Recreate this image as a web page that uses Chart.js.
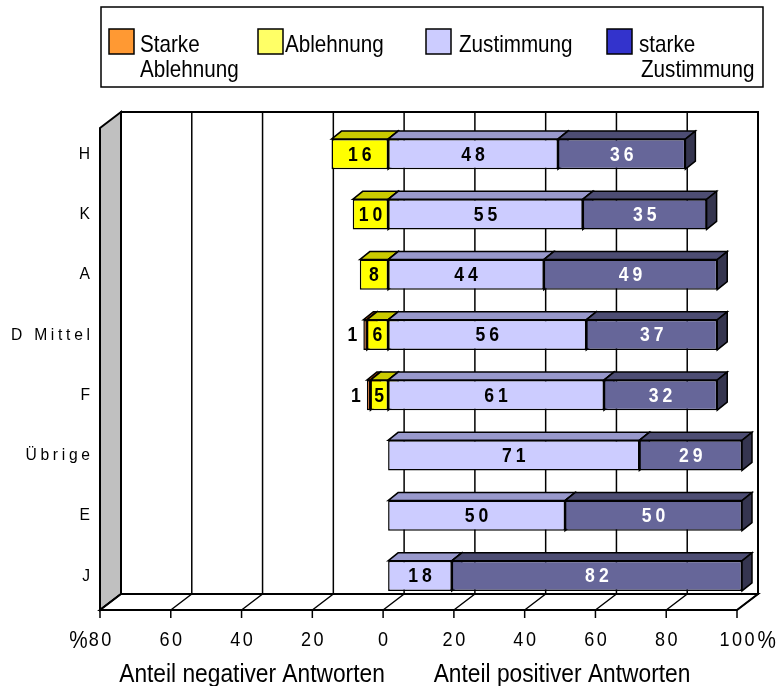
<!DOCTYPE html>
<html>
<head>
<meta charset="utf-8">
<script src="https://cdn.jsdelivr.net/npm/chart.js@4/dist/chart.umd.min.js"></script>
<style>
  html, body { margin: 0; padding: 0; background: #fff; }
  #wrap { width: 783px; height: 686px; }
</style>
</head>
<body>
<div id="wrap"><canvas id="c" width="783" height="686"></canvas></div>
<script>
// Survey answers per region, in percent
const categories = ['H', 'K', 'A', 'D Mittel', 'F', 'Übrige', 'E', 'J'];
const starkeAblehnung  = [0, 0, 0, 1, 1, 0, 0, 0];
const ablehnung        = [16, 10, 8, 6, 5, 0, 0, 0];
const zustimmung       = [48, 55, 44, 56, 61, 71, 50, 18];
const starkeZustimmung = [36, 35, 49, 37, 32, 29, 50, 82];
const xTicks = [-80, -60, -40, -20, 0, 20, 40, 60, 80, 100];

const legendItems = [
  { lines: ['Starke', 'Ablehnung'], color: '#FF9933' },
  { lines: ['Ablehnung'], color: '#FFFF66' },
  { lines: ['Zustimmung'], color: '#CCCCFF' },
  { lines: ['starke', 'Zustimmung'], color: '#3333CC' }
];

const FONT = '"Liberation Sans", Arial, sans-serif';
// offsets of the 3D box relative to the front plane of the bars
const FRONT = { x: -5, y: 4 };
const BACK = { x: 16, y: -12 };
const BAR_DEPTH = { x: 10, y: -8 };

const negative = arr => arr.map(v => (v === 0 ? null : -v));
const positive = arr => arr.map(v => (v === 0 ? null : v));

// text helpers: letter spacing and horizontal condensing
function spacedWidth(ctx, text, sp, sx) {
  const chars = [...text];
  let w = 0;
  for (const ch of chars) w += ctx.measureText(ch).width * sx;
  return w + sp * (chars.length - 1);
}
function drawSpaced(ctx, text, x, y, sp, align, sx) {
  sx = sx || 1;
  const w = spacedWidth(ctx, text, sp, sx);
  let cx = align === 'center' ? x - w / 2 : align === 'right' ? x - w : x;
  ctx.textAlign = 'left';
  for (const ch of [...text]) {
    ctx.save();
    ctx.translate(cx, y);
    ctx.scale(sx, 1);
    ctx.fillText(ch, 0, 0);
    ctx.restore();
    cx += ctx.measureText(ch).width * sx + sp;
  }
  return w;
}
function poly(ctx, pts, fill, lw) {
  ctx.beginPath();
  ctx.moveTo(pts[0][0], pts[0][1]);
  for (let i = 1; i < pts.length; i++) ctx.lineTo(pts[i][0], pts[i][1]);
  ctx.closePath();
  if (fill) { ctx.fillStyle = fill; ctx.fill(); }
  ctx.lineWidth = lw || 1.5;
  ctx.strokeStyle = '#000';
  ctx.stroke();
}

const box3d = {
  id: 'box3d',
  beforeDatasetsDraw(chart) {
    const ctx = chart.ctx, xs = chart.scales.x, ca = chart.chartArea;
    const x0 = xs.getPixelForValue(xTicks[0]);
    const x1 = xs.getPixelForValue(xTicks[xTicks.length - 1]);
    ctx.save();
    ctx.lineJoin = 'miter';
    // back wall
    poly(ctx, [[x0 + BACK.x, ca.top + BACK.y], [x1 + BACK.x, ca.top + BACK.y],
               [x1 + BACK.x, ca.bottom + BACK.y], [x0 + BACK.x, ca.bottom + BACK.y]], '#fff', 2);
    // grid lines on back wall
    ctx.lineWidth = 1.5;
    ctx.strokeStyle = '#000';
    xTicks.forEach(v => {
      const gx = xs.getPixelForValue(v) + BACK.x;
      ctx.beginPath();
      ctx.moveTo(gx, ca.top + BACK.y);
      ctx.lineTo(gx, ca.bottom + BACK.y);
      ctx.stroke();
    });
    // left side wall
    poly(ctx, [[x0 + FRONT.x, ca.top + FRONT.y], [x0 + BACK.x, ca.top + BACK.y],
               [x0 + BACK.x, ca.bottom + BACK.y], [x0 + FRONT.x, ca.bottom + FRONT.y]], '#C0C0C0', 2);
    // floor
    poly(ctx, [[x0 + FRONT.x, ca.bottom + FRONT.y], [x1 + FRONT.x, ca.bottom + FRONT.y],
               [x1 + BACK.x, ca.bottom + BACK.y], [x0 + BACK.x, ca.bottom + BACK.y]], '#fff', 2);
    ctx.lineWidth = 1.5;
    xTicks.forEach(v => {
      const px = xs.getPixelForValue(v);
      ctx.beginPath();
      ctx.moveTo(px + FRONT.x, ca.bottom + FRONT.y + 8);
      ctx.lineTo(px + FRONT.x, ca.bottom + FRONT.y);
      ctx.lineTo(px + BACK.x, ca.bottom + BACK.y);
      ctx.stroke();
    });
    // top and side faces of the bar segments
    const metas = chart.getSortedVisibleDatasetMetas();
    categories.forEach((c, i) => {
      const segs = [];
      metas.forEach(m => {
        const el = m.data[i];
        const ds = chart.data.datasets[m.index];
        if (!el || ds.data[i] === null) return;
        const l = Math.min(el.x, el.base), r = Math.max(el.x, el.base);
        segs.push({ l, r, t: el.y - el.height / 2, b: el.y + el.height / 2, ds });
      });
      segs.sort((a, b) => a.l - b.l);
      segs.forEach(s => {
        poly(ctx, [[s.l, s.t], [s.l + BAR_DEPTH.x, s.t + BAR_DEPTH.y],
                   [s.r + BAR_DEPTH.x, s.t + BAR_DEPTH.y], [s.r, s.t]], s.ds.topColor, 1.5);
        poly(ctx, [[s.r, s.t], [s.r + BAR_DEPTH.x, s.t + BAR_DEPTH.y],
                   [s.r + BAR_DEPTH.x, s.b + BAR_DEPTH.y], [s.r, s.b]], s.ds.sideColor, 1.5);
      });
    });
    ctx.restore();
  },
  afterDatasetsDraw(chart) {
    const ctx = chart.ctx;
    ctx.save();
    ctx.font = 'bold 20px ' + FONT;
    ctx.textBaseline = 'middle';
    chart.getSortedVisibleDatasetMetas().forEach(m => {
      const ds = chart.data.datasets[m.index];
      m.data.forEach((el, i) => {
        const v = ds.data[i];
        if (v === null) return;
        const txt = String(Math.abs(v));
        ctx.fillStyle = ds.labelColor;
        if (ds.outsideLabel) {
          drawSpaced(ctx, txt, Math.min(el.x, el.base) - 6, el.y + 1, 4, 'right', 0.88);
        } else {
          drawSpaced(ctx, txt, (el.x + el.base) / 2, el.y + 1, 4, 'center', 0.88);
        }
      });
    });
    ctx.restore();
  },
  afterDraw(chart) {
    const ctx = chart.ctx, xs = chart.scales.x, ys = chart.scales.y, ca = chart.chartArea;
    ctx.save();
    ctx.fillStyle = '#000';
    ctx.textBaseline = 'middle';
    // category labels
    ctx.font = '17px ' + FONT;
    categories.forEach((c, i) => {
      drawSpaced(ctx, c, 90, ys.getPixelForValue(i), 3.7, 'right', 0.92);
    });
    // value axis labels on the front edge of the floor
    ctx.font = '21px ' + FONT;
    const ty = ca.bottom + FRONT.y + 30;
    const widths = xTicks.map(v =>
      drawSpaced(ctx, String(Math.abs(v)), xs.getPixelForValue(v) + FRONT.x, ty, 2.5, 'center', 0.86));
    ctx.font = '23px ' + FONT;
    drawSpaced(ctx, '%', xs.getPixelForValue(xTicks[0]) + FRONT.x - widths[0] / 2 - 1, ty + 2, 0, 'right', 0.9);
    drawSpaced(ctx, '%', xs.getPixelForValue(xTicks[xTicks.length - 1]) + FRONT.x + widths[widths.length - 1] / 2 + 3,
               ty + 2, 0, 'left', 0.9);
    // axis titles
    ctx.font = '26px ' + FONT;
    ctx.textBaseline = 'alphabetic';
    drawSpaced(ctx, 'Anteil negativer Antworten', 252, 682, 0, 'center', 0.875);
    drawSpaced(ctx, 'Anteil positiver Antworten', 562, 682, 0, 'center', 0.875);
    // legend
    ctx.lineWidth = 1.5;
    ctx.strokeStyle = '#000';
    ctx.strokeRect(101, 7, 662, 80);
    const swX = [109, 258, 426, 607];
    const txX = [[140, 140], [285], [459], [639, 641]];
    ctx.font = '24px ' + FONT;
    legendItems.forEach((it, k) => {
      ctx.fillStyle = it.color;
      ctx.fillRect(swX[k], 29, 25, 25);
      ctx.strokeRect(swX[k], 29, 25, 25);
      ctx.fillStyle = '#000';
      it.lines.forEach((ln, j) => drawSpaced(ctx, ln, txX[k][j], 52 + j * 25, 0, 'left', 0.86));
    });
    ctx.restore();
  }
};

new Chart(document.getElementById('c'), {
  type: 'bar',
  data: {
    labels: categories,
    datasets: [
      { label: 'Ablehnung', data: negative(ablehnung), backgroundColor: '#FFFF00',
        topColor: '#CCCC00', sideColor: '#999900', labelColor: '#000' },
      { label: 'Starke Ablehnung', data: negative(starkeAblehnung), backgroundColor: '#FF6600',
        topColor: '#CC5200', sideColor: '#993D00', labelColor: '#000', outsideLabel: true },
      { label: 'Zustimmung', data: positive(zustimmung), backgroundColor: '#CCCCFF',
        topColor: '#9999CC', sideColor: '#7777AA', labelColor: '#000' },
      { label: 'starke Zustimmung', data: positive(starkeZustimmung), backgroundColor: '#666699',
        topColor: '#4D4D73', sideColor: '#35354F', labelColor: '#fff' }
    ].map(d => Object.assign(d, {
      borderColor: '#000', borderWidth: 1.5, borderSkipped: false,
      barPercentage: 0.5, categoryPercentage: 1
    }))
  },
  options: {
    responsive: false,
    animation: false,
    indexAxis: 'y',
    layout: { padding: { left: 105, right: 41, top: 124, bottom: 80 } },
    scales: {
      x: { stacked: true, min: xTicks[0], max: xTicks[xTicks.length - 1], display: false },
      y: { stacked: true, display: false }
    },
    plugins: { legend: { display: false }, tooltip: { enabled: false } }
  },
  plugins: [box3d]
});
</script>
</body>
</html>
